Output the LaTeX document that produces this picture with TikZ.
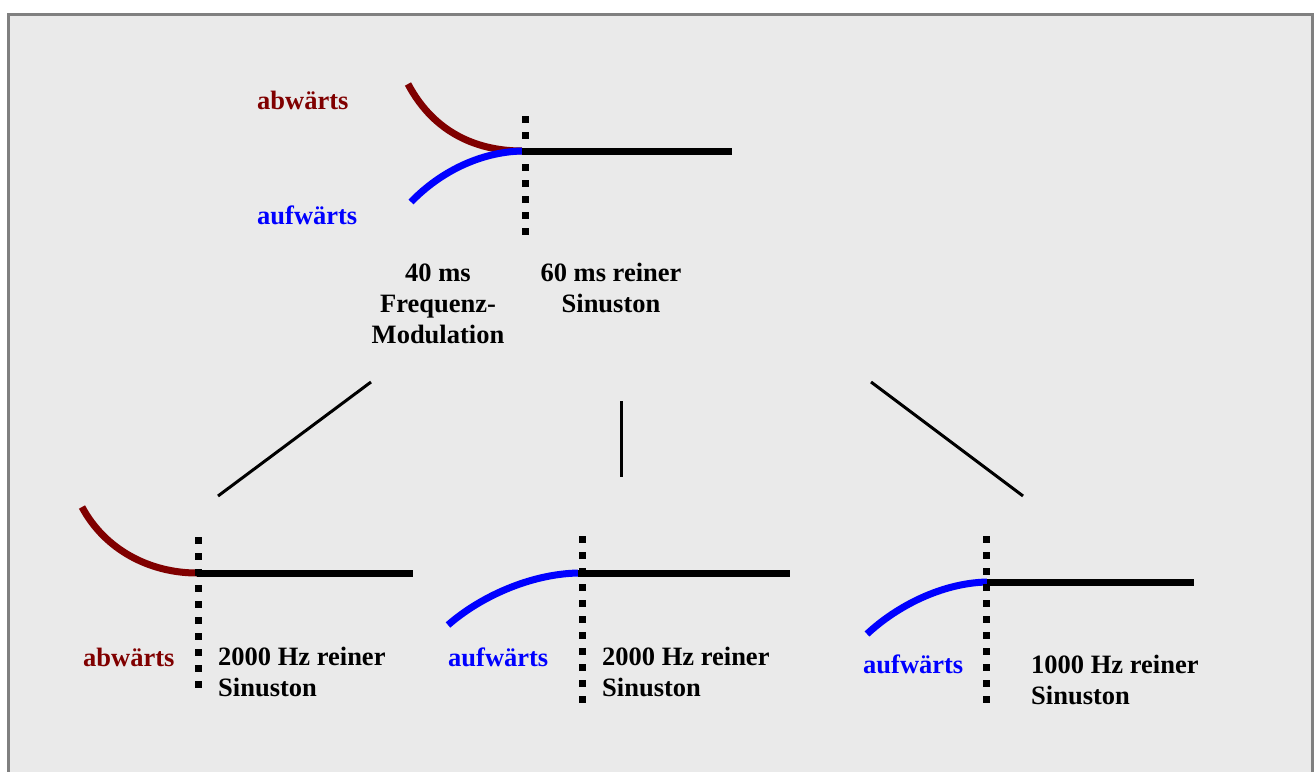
\documentclass[tikz,border=0pt]{standalone}
\usepackage{fontspec}
\setmainfont{Liberation Serif}
\definecolor{bg}{HTML}{EAEAEA}
\definecolor{framegray}{HTML}{808080}
\definecolor{downred}{HTML}{800000}
\definecolor{upblue}{HTML}{0000FF}

\begin{document}
\begin{tikzpicture}[x=1pt,y=-1pt,
  lbl/.style={font=\fontsize{26.5}{31}\selectfont\bfseries, inner sep=0pt},
  sweep/.style={line width=7pt},
  tone/.style={line width=7pt, black},
  gap/.style={line width=7pt, dash pattern=on 7pt off 9pt},
  link/.style={line width=3pt, black},
]
\useasboundingbox (0,0) rectangle (1314,771);
\clip (0,0) rectangle (1314,771);
% panel
\draw[line width=3pt, draw=framegray, fill=bg] (8.5,14.5) rectangle (1312.5,800);

% ---------- top: both sweeps into the steady tone ----------
% (multi-line labels are placed by the baseline of their last line)
\coordinate (tJ) at (522,151);
\coordinate (tDown) at (408,84);
\coordinate (tUp) at (411,202);
\coordinate (tEnd) at (732,151);
\draw[sweep, downred] (tDown) .. controls (435,135) and (480,151) .. (tJ);
\draw[sweep, upblue] (tUp) .. controls (440,172) and (480,152) .. (tJ);
\draw[tone] (tJ) -- (tEnd);
\coordinate (tG1) at (525,116);
\coordinate (tG2) at (525,236);
\draw[gap] (tG1) -- (tG2);
\node[lbl, text=downred, anchor=base west] (tDownL) at (257,109) {abwärts};
\node[lbl, text=upblue, anchor=base west] (tUpL) at (257,224) {aufwärts};
\node[lbl, align=center, anchor=base] (tFM) at (438,343) {40 ms\\Frequenz-\\Modulation};
\node[lbl, align=center, anchor=base] (tSin) at (611,312) {60 ms reiner\\Sinuston};

% ---------- branches ----------
\coordinate (bL1) at (371,382); \coordinate (bL2) at (218,496);
\coordinate (bM1) at (621,401); \coordinate (bM2) at (621,477);
\coordinate (bR1) at (871,382); \coordinate (bR2) at (1023,496);
\draw[link] (bL1) -- (bL2);
\draw[link] (bM1) -- (bM2);
\draw[link] (bR1) -- (bR2);

% ---------- bottom left: downward sweep, 2000 Hz ----------
\coordinate (lJ) at (197,573);
\coordinate (lDown) at (82,507);
\coordinate (lEnd) at (413,573);
\draw[sweep, downred] (lDown) .. controls (105,550) and (150,573) .. (lJ);
\draw[tone] (lJ) -- (lEnd);
\draw[gap] (198,537) coordinate (lG1) -- (198,688) coordinate (lG2);
\node[lbl, text=downred, anchor=base west] (lDownL) at (83,666) {abwärts};
\node[lbl, align=left, anchor=base west] (lSin) at (218,696) {2000 Hz reiner\\Sinuston};

% ---------- bottom middle: upward sweep, 2000 Hz ----------
\coordinate (mJ) at (578,573);
\coordinate (mUp) at (448,625);
\coordinate (mEnd) at (790,573);
\draw[sweep, upblue] (mUp) .. controls (480,597) and (530,574) .. (mJ);
\draw[tone] (mJ) -- (mEnd);
\draw[gap] (582,536) coordinate (mG1) -- (582,703) coordinate (mG2);
\node[lbl, text=upblue, anchor=base west] (mUpL) at (448,666) {aufwärts};
\node[lbl, align=left, anchor=base west] (mSin) at (602,696) {2000 Hz reiner\\Sinuston};

% ---------- bottom right: upward sweep, 1000 Hz ----------
\coordinate (rJ) at (987,582);
\coordinate (rUp) at (867,634);
\coordinate (rEnd) at (1194,582);
\draw[sweep, upblue] (rUp) .. controls (897,606) and (942,583) .. (rJ);
\draw[tone] (rJ) -- (rEnd);
\draw[gap] (986,536) coordinate (rG1) -- (986,704) coordinate (rG2);
\node[lbl, text=upblue, anchor=base west] (rUpL) at (863,673) {aufwärts};
\node[lbl, align=left, anchor=base west] (rSin) at (1031,704) {1000 Hz reiner\\Sinuston};
\end{tikzpicture}
\end{document}
